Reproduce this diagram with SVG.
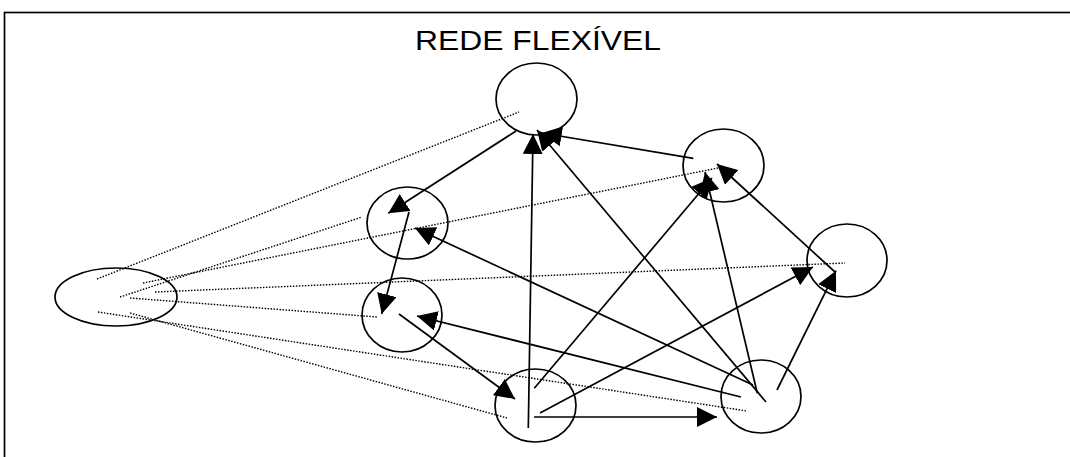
<svg xmlns="http://www.w3.org/2000/svg" width="1070" height="457" viewBox="0 0 1070 457">
<style>
.node{fill:none;stroke:#000;stroke-width:1.7}
.arr{fill:none;stroke:#000;stroke-width:1.7;marker-end:url(#ah)}
.dot{fill:none;stroke:#000;stroke-width:1.4;stroke-dasharray:1.5 1.5}
.title{font-family:"Liberation Sans",Arial,sans-serif;font-size:28px;fill:#000}
</style>
<defs>
<marker id="ah" markerUnits="userSpaceOnUse" markerWidth="20" markerHeight="20" refX="20" refY="10" orient="auto" viewBox="0 0 20 20">
<path d="M0,0 L20,10 L0,20 z" fill="#000"/>
</marker>
</defs>
<rect x="4.5" y="12.5" width="1070" height="450" fill="#fff" stroke="#000" stroke-width="1.7"/>
<text class="title" x="538" y="50" text-anchor="middle" textLength="246" lengthAdjust="spacingAndGlyphs">REDE FLEXÍVEL</text>
<g id="n-top"><ellipse class="node" cx="536.5" cy="99" rx="40.5" ry="36"/></g>
<g id="n-right-top"><ellipse class="node" cx="723.5" cy="165.5" rx="40.5" ry="36.5"/></g>
<g id="n-mid-upper"><ellipse class="node" cx="407.5" cy="223" rx="40.5" ry="36"/></g>
<g id="n-mid-lower"><ellipse class="node" cx="402" cy="315" rx="40" ry="37"/></g>
<g id="n-far-right"><ellipse class="node" cx="847" cy="260.5" rx="40" ry="36.5"/></g>
<g id="n-bottom-right"><ellipse class="node" cx="761" cy="396.5" rx="40" ry="36.5"/></g>
<g id="n-bottom-center"><ellipse class="node" cx="535.5" cy="405.5" rx="40.5" ry="36.5"/></g>
<g id="n-left"><ellipse class="node" cx="116" cy="297" rx="61" ry="29"/></g>
<g id="connectors">
<line class="dot" x1="97" y1="279" x2="519" y2="112"/>
<line class="dot" x1="120" y1="297" x2="362" y2="217"/>
<line class="dot" x1="143" y1="283" x2="718" y2="168"/>
<line class="dot" x1="155" y1="292" x2="845" y2="263"/>
<line class="dot" x1="130" y1="298" x2="377" y2="317"/>
<line class="dot" x1="98" y1="312" x2="747" y2="411"/>
<line class="dot" x1="130" y1="313" x2="507" y2="418"/>
<line class="arr" x1="516" y1="131" x2="388.3" y2="213.3"/>
<line class="arr" x1="409" y1="212" x2="381.7" y2="314"/>
<line class="arr" x1="399" y1="314" x2="515" y2="399"/>
<line class="arr" x1="528.3" y1="428" x2="533" y2="134"/>
<line class="arr" x1="766" y1="402" x2="537" y2="130"/>
<line class="arr" x1="693.3" y1="158.3" x2="541.7" y2="133"/>
<line class="arr" x1="534.3" y1="388.3" x2="712" y2="178"/>
<line class="arr" x1="757.3" y1="393.3" x2="705" y2="172"/>
<line class="arr" x1="835" y1="272" x2="717" y2="164"/>
<line class="arr" x1="777" y1="390" x2="836" y2="270.7"/>
<line class="arr" x1="540" y1="413" x2="813" y2="267"/>
<line class="arr" x1="534" y1="417" x2="717" y2="417"/>
<line class="arr" x1="753" y1="385" x2="415" y2="228"/>
<line class="arr" x1="741" y1="397" x2="417" y2="316"/>
</g>
</svg>
